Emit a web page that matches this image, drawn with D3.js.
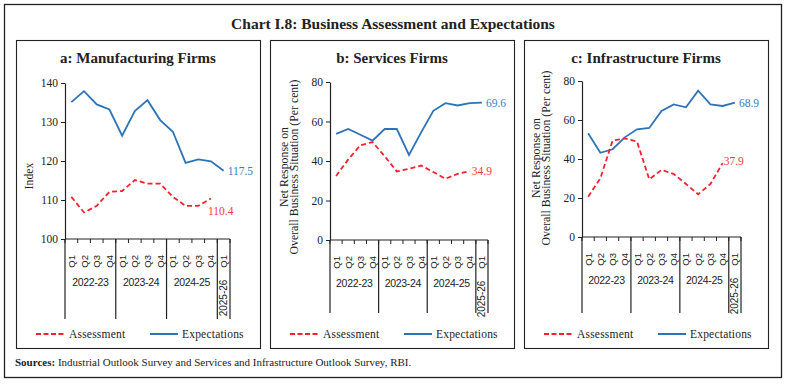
<!DOCTYPE html>
<html>
<head>
<meta charset="utf-8">
<script src="https://cdn.jsdelivr.net/npm/d3@7"></script>
<style>
  body { margin: 0; background: #fff; }
  text { font-family: "Liberation Serif", "DejaVu Serif", serif; fill: #222; }
  .sans { font-family: "Liberation Sans", "DejaVu Sans", sans-serif; }
</style>
</head>
<body>
<div id="chart"></div>
<script>
// quarters and fiscal years on the x axis
var quarters = ["Q1","Q2","Q3","Q4","Q1","Q2","Q3","Q4","Q1","Q2","Q3","Q4","Q1"];
var years = ["2022-23","2023-24","2024-25","2025-26"];

// a: manufacturing (index)
var mfgAssessment = [110.8, 106.8, 108.5, 112.1, 112.3, 115.1, 114.2, 114.2, 110.8, 108.5, 108.5, 110.4, null];
var mfgExpectations = [135.1, 137.9, 134.5, 133.2, 126.5, 132.8, 135.6, 130.5, 127.5, 119.5, 120.4, 119.9, 117.5];

// b: services (net response, per cent)
var svcAssessment = [32.4, 40.8, 48.0, 49.6, 42.4, 34.7, 36.1, 37.7, 34.4, 31.0, 33.5, 34.9, null];
var svcExpectations = [53.7, 56.2, 53.3, 50.3, 56.2, 56.2, 43.1, 54.5, 65.4, 69.3, 68.1, 69.3, 69.6];

// c: infrastructure (net response, per cent)
var infAssessment = [20.7, 30.1, 49.4, 50.6, 48.9, 29.6, 34.4, 32.3, 27.2, 21.9, 27.2, 37.9, null];
var infExpectations = [53.2, 43.2, 45.0, 51.1, 55.2, 55.9, 64.6, 68.0, 66.5, 75.0, 68.0, 67.2, 68.9];

var mfgTicks = [100, 110, 120, 130, 140];
var pctTicks = [0, 20, 40, 60, 80];

var red = "#f7202e", blue = "#2e73b8";
var redText = "#f53a48", blueText = "#3b7cc2";

var svg = d3.select("#chart")
  .append("svg")
  .attr("width", 786)
  .attr("height", 384);

// outer frame + title
svg.append("rect")
  .attr("x", 4.5).attr("y", 4.5).attr("width", 777).attr("height", 373)
  .attr("fill", "none").attr("stroke", "#222").attr("stroke-width", 1.3);

svg.append("text")
  .attr("x", 393).attr("y", 29)
  .attr("text-anchor", "middle")
  .style("font-size", "15.5px").style("font-weight", "bold")
  .text("Chart I.8: Business Assessment and Expectations");

svg.append("text")
  .attr("x", 15).attr("y", 366)
  .style("font-size", "11px")
  .html('<tspan font-weight="bold">Sources:</tspan> Industrial Outlook Survey and Services and Infrastructure Outlook Survey, RBI.');

var panels = [
  { left: 16, width: 244, title: "a: Manufacturing Firms",
    x0: 65, x1: 230, yTop: 83, yBot: 239, divEnd: 319,
    domain: [100, 140], ticks: mfgTicks,
    assess: mfgAssessment, expect: mfgExpectations,
    yTitle: ["Index"], yTitleX: 33, yTitleY: 176,
    expLabel: [4, 4], assLabel: [-3, 17] },
  { left: 270, width: 244, title: "b: Services Firms",
    x0: 330, x1: 488, yTop: 82, yBot: 240, divEnd: 313,
    domain: [0, 80], ticks: pctTicks,
    assess: svcAssessment, expect: svcExpectations,
    yTitle: ["Net Response on", "Overall Business Situation (Per cent)"], yTitleX: 288, yTitleY: 167,
    expLabel: [4, 4], assLabel: [2, 4] },
  { left: 524, width: 244, title: "c: Infrastructure Firms",
    x0: 582, x1: 741, yTop: 81, yBot: 237, divEnd: 313,
    domain: [0, 80], ticks: pctTicks,
    assess: infAssessment, expect: infExpectations,
    yTitle: ["Net Response on", "Overall Business Situation (Per cent)"], yTitleX: 540, yTitleY: 158,
    expLabel: [4, 4], assLabel: [1, 2] }
];

panels.forEach(function(p) {
  var g = svg.append("g");

  g.append("rect")
    .attr("x", p.left + 0.5).attr("y", 40.5).attr("width", p.width).attr("height", 308)
    .attr("fill", "none").attr("stroke", "#222").attr("stroke-width", 1.1);

  g.append("text")
    .attr("x", p.left + p.width / 2).attr("y", 63)
    .attr("text-anchor", "middle")
    .style("font-size", "15px").style("font-weight", "bold")
    .text(p.title);

  var x = d3.scaleBand().domain(d3.range(quarters.length)).range([p.x0, p.x1]);
  var y = d3.scaleLinear().domain(p.domain).range([p.yBot, p.yTop]);
  var bw = x.bandwidth();
  var cx = function(i) { return x(i) + bw / 2; };

  // Y axis
  var yAxis = g.append("g")
    .attr("transform", "translate(" + p.x0 + ",0)")
    .call(d3.axisLeft(y).tickValues(p.ticks).tickSize(4).tickSizeOuter(0).tickPadding(3));
  yAxis.select(".domain").attr("stroke", "#222").attr("stroke-width", 1.2);
  yAxis.selectAll(".tick line").attr("stroke", "#222");
  yAxis.selectAll("text")
    .style("font-family", "Liberation Serif, serif")
    .style("font-size", "11.5px").attr("fill", "#222");

  // Y title
  var yt = g.append("text")
    .attr("transform", "translate(" + p.yTitleX + "," + p.yTitleY + ") rotate(-90)")
    .attr("text-anchor", "middle")
    .style("font-size", "11.8px");
  p.yTitle.forEach(function(t, k) {
    yt.append("tspan").attr("x", 0).attr("dy", k === 0 ? 0 : 10).text(t);
  });

  // X axis: baseline, quarter ticks, year dividers
  var bounds = d3.range(quarters.length + 1).map(function(i) {
    return i < quarters.length ? x(i) : x.range()[1];
  });
  g.append("line")
    .attr("x1", p.x0).attr("x2", p.x1).attr("y1", p.yBot).attr("y2", p.yBot)
    .attr("stroke", "#222").attr("stroke-width", 1.2);
  g.selectAll(".qtick")
    .data(bounds)
    .enter().append("line")
    .attr("x1", function(d) { return d; }).attr("x2", function(d) { return d; })
    .attr("y1", p.yBot).attr("y2", p.yBot + 4)
    .attr("stroke", "#222").attr("stroke-width", 1);

  // groups start at each Q1
  var starts = [];
  quarters.forEach(function(q, i) { if (q === "Q1") starts.push(i); });
  var groups = starts.map(function(s, k) {
    var e = k + 1 < starts.length ? starts[k + 1] : quarters.length;
    return { year: years[k], a: bounds[s], b: bounds[e], n: e - s };
  });

  var divs = starts.map(function(s) { return bounds[s]; }).concat([bounds[quarters.length]]);
  g.selectAll(".divider")
    .data(divs)
    .enter().append("line")
    .attr("x1", function(d) { return d; }).attr("x2", function(d) { return d; })
    .attr("y1", p.yBot).attr("y2", p.divEnd)
    .attr("stroke", "#222").attr("stroke-width", 1.2);

  g.selectAll(".qlabel")
    .data(quarters)
    .enter().append("text")
    .attr("class", "sans")
    .attr("transform", function(d, i) { return "translate(" + (cx(i) + 3.5) + "," + (p.yBot + 16) + ") rotate(-90)"; })
    .attr("text-anchor", "end")
    .style("font-size", "9.5px")
    .text(function(d) { return d; });

  groups.forEach(function(gr) {
    if (gr.n > 1) {
      g.append("text")
        .attr("class", "sans")
        .attr("x", (gr.a + gr.b) / 2).attr("y", p.yBot + 47)
        .attr("text-anchor", "middle")
        .style("font-size", "10.5px").style("letter-spacing", "-0.3px")
        .text(gr.year);
    } else {
      g.append("text")
        .attr("class", "sans")
        .attr("transform", "translate(" + ((gr.a + gr.b) / 2 + 3.5) + "," + (p.yBot + 59) + ") rotate(-90)")
        .attr("text-anchor", "middle")
        .style("font-size", "10px")
        .text(gr.year);
    }
  });

  // lines
  var line = d3.line()
    .defined(function(d) { return d != null; })
    .x(function(d, i) { return cx(i); })
    .y(function(d) { return y(d); });

  g.append("path")
    .datum(p.expect)
    .attr("d", line)
    .attr("fill", "none").attr("stroke", blue).attr("stroke-width", 1.8);

  g.append("path")
    .datum(p.assess)
    .attr("d", line)
    .attr("fill", "none").attr("stroke", red).attr("stroke-width", 1.8)
    .attr("stroke-dasharray", "5,3");

  // end labels
  var lastE = p.expect.length - 1;
  while (p.expect[lastE] == null) lastE--;
  var lastA = p.assess.length - 1;
  while (p.assess[lastA] == null) lastA--;

  g.append("text")
    .attr("x", cx(lastE) + p.expLabel[0]).attr("y", y(p.expect[lastE]) + p.expLabel[1])
    .style("fill", blueText)
    .style("font-size", "11.5px")
    .text(p.expect[lastE].toFixed(1));

  g.append("text")
    .attr("x", cx(lastA) + p.assLabel[0]).attr("y", y(p.assess[lastA]) + p.assLabel[1])
    .style("fill", redText)
    .style("font-size", "11.5px")
    .text(p.assess[lastA].toFixed(1));

  // legend
  var ly = 334;
  g.append("line")
    .attr("x1", p.left + 20).attr("x2", p.left + 48).attr("y1", ly).attr("y2", ly)
    .attr("stroke", red).attr("stroke-width", 2).attr("stroke-dasharray", "5,2.5");
  g.append("text")
    .attr("x", p.left + 53).attr("y", ly + 4)
    .style("font-size", "11.5px").style("letter-spacing", "0.2px")
    .text("Assessment");
  g.append("line")
    .attr("x1", p.left + 134).attr("x2", p.left + 162).attr("y1", ly).attr("y2", ly)
    .attr("stroke", blue).attr("stroke-width", 2);
  g.append("text")
    .attr("x", p.left + 166).attr("y", ly + 4)
    .style("font-size", "11.5px").style("letter-spacing", "0.2px")
    .text("Expectations");
});
</script>
</body>
</html>
